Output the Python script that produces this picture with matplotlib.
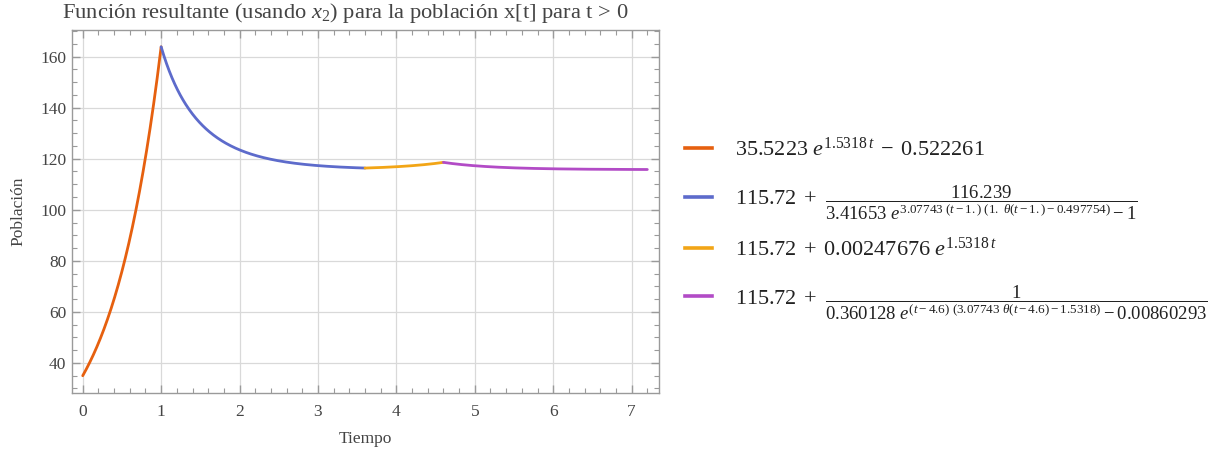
import matplotlib
matplotlib.use('Agg')
import matplotlib.pyplot as plt
from matplotlib.lines import Line2D
import numpy as np

plt.rcParams['font.family'] = ['Liberation Serif', 'DejaVu Serif']
plt.rcParams['mathtext.fontset'] = 'custom'
plt.rcParams['mathtext.rm'] = 'Liberation Serif'
plt.rcParams['mathtext.it'] = 'Liberation Serif:italic'
plt.rcParams['mathtext.bf'] = 'Liberation Serif:bold'

# tramos de tiempo y coeficientes de cada expresion
t_breaks = [0.0, 1.0, 3.6, 4.6, 7.2]
k = 1.5318
eq = 115.72
c_tramo1 = [35.5223, -0.522261]
c_tramo2 = [116.239, 3.41653, 3.07743, 0.497754]
c_tramo3 = [0.00247676]
c_tramo4 = [0.360128, 3.07743, 0.00860293]

colores = ['#E6600F', '#5D6BCB', '#F2A516', '#B24BC6']
etiquetas = [
    r'$35.5223\ e^{1.5318\,t}\; - \;0.522261$',
    r'$115.72\; +$',
    r'$115.72\; + \;0.00247676\ e^{1.5318\,t}$',
    r'$115.72\; +$',
]
# fracciones que siguen a la etiqueta (None si no hay)
fracciones = [
    None,
    r'$\dfrac{116.239}{3.41653\ e^{3.07743\ (t-1.)\ (1.\ \theta(t-1.)-0.497754)}-1}$',
    None,
    r'$\dfrac{1}{0.360128\ e^{(t-4.6)\ (3.07743\ \theta(t-4.6)-1.5318)}-0.00860293}$',
]

def theta(x):
    return np.heaviside(x, 1.0)

t1 = np.linspace(t_breaks[0], t_breaks[1], 200)
x1 = c_tramo1[0] * np.exp(k * t1) + c_tramo1[1]
t2 = np.linspace(t_breaks[1], t_breaks[2], 300)
x2 = eq + c_tramo2[0] / (c_tramo2[1] * np.exp(c_tramo2[2] * (t2 - 1) * (theta(t2 - 1) - c_tramo2[3])) - 1)
t3 = np.linspace(t_breaks[2], t_breaks[3], 200)
x3 = eq + c_tramo3[0] * np.exp(k * t3)
t4 = np.linspace(t_breaks[3], t_breaks[4], 300)
x4 = eq + 1 / (c_tramo4[0] * np.exp((t4 - 4.6) * (c_tramo4[1] * theta(t4 - 4.6) - k)) - c_tramo4[2])

fig = plt.figure(figsize=(12.16, 4.51), dpi=100)
ax = fig.add_axes([0.059, 0.129, 0.483, 0.805])

for t, x, c in zip([t1, t2, t3, t4], [x1, x2, x3, x4], colores):
    ax.plot(t, x, color=c, lw=2.0, solid_capstyle='round', zorder=3)

ax.set_xlim(-0.14, 7.35)
ax.set_ylim(28.3, 170.5)
ax.set_xticks(np.arange(0, 8, 1))
ax.set_xticks(np.arange(0, 7.35, 0.2), minor=True)
ax.set_yticks(np.arange(40, 161, 20))
ax.set_yticks(np.arange(30, 171, 5), minor=True)
ax.grid(True, which='major', color='#d9d9d9', lw=0.9, zorder=0)
for s in ax.spines.values():
    s.set_color('#9a9a9a')
    s.set_linewidth(1.0)
ax.tick_params(which='both', direction='in', top=True, right=True, color='#9a9a9a',
               labelsize=12.5, labelcolor='#444444')
ax.tick_params(which='major', length=6, width=1.0, pad=8)
ax.tick_params(which='minor', length=3.5, width=0.8)
ax.tick_params(axis='y', which='major', pad=4)

fig.text(0.284, 0.972, r'Función resultante (usando $x_2$) para la población x[t] para t > 0',
         ha='center', va='center', fontsize=16.2, color='#444444')
ax.set_xlabel('Tiempo', fontsize=12.5, color='#444444', labelpad=8)
ax.set_ylabel('Población', fontsize=12.5, color='#444444', labelpad=10)

handles = [Line2D([], [], color=c, lw=2.6) for c in colores]
leg = fig.legend(handles, etiquetas, loc='center left', bbox_to_anchor=(0.5465, 0.505),
                 frameon=False, fontsize=16, handlelength=1.25, handletextpad=1.0,
                 labelspacing=1.25, labelcolor='#222222')

# las fracciones van a la derecha de "115.72 +", en pixeles de la figura
fig.canvas.draw()
for txt, frac in zip(leg.get_texts(), fracciones):
    if frac is None:
        continue
    bb = txt.get_window_extent()
    fig.text(bb.x1 + 8, (bb.y0 + bb.y1) / 2 - 3, frac, transform=None,
             ha='left', va='center', fontsize=13.5, color='#222222')

fig.savefig('out.png', dpi=100)
